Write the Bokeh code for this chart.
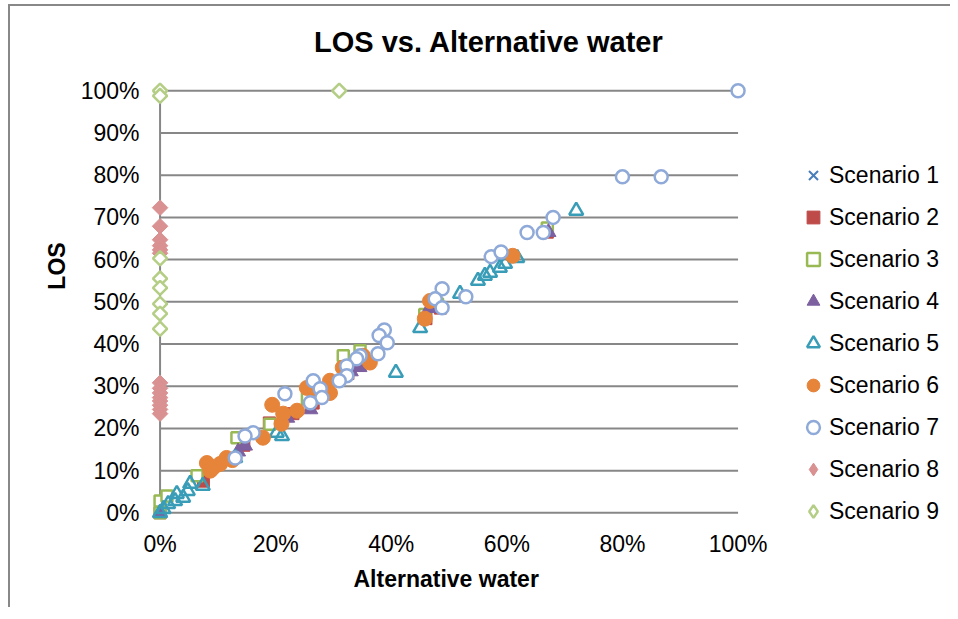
import math
from bokeh.plotting import figure
from bokeh.models import (FixedTicker, PrintfTickFormatter, Legend, LegendItem, Title, Label)
from bokeh.embed import file_html
from bokeh.resources import INLINE

# ---------------- data (percent) ----------------
s1_x = [0, 7.5, 14.5, 18.9, 23, 26.5, 32.5, 34.5, 46, 48.5, 67]
s1_y = [0, 7.5, 16, 21.3, 23.5, 26, 33, 35, 46, 48.5, 66.5]

s2_x = [0, 7.5, 14.5, 18.9, 23, 26.5, 32.5, 34.5, 46, 48.5, 67]
s2_y = [0, 7.5, 16, 21.3, 23.5, 26, 33, 35, 46, 48.5, 66.5]

s3_x = [0, 0, 1.2, 6.4, 13.3, 19, 25.5, 31.7, 34.6, 45.8, 48, 67]
s3_y = [0, 2.8, 4, 8.8, 17.8, 21, 27, 37.2, 38.4, 47, 49.5, 67.5]

s4_x = [0, 13.5, 14.7, 22, 26, 33, 34.5, 46.6, 67.2]
s4_y = [0, 14.5, 15.9, 22.5, 24.5, 33.5, 34.5, 48.5, 66.5]

s5_x = [0, 0.6, 1.4, 2.6, 2.9, 4, 4.8, 5.2, 7.4, 13, 20.2, 21.1, 27, 40.8, 45,
        51.9, 55, 56.2, 57.1, 58.8, 59.7, 61.8, 72]
s5_y = [0, 0.9, 2.1, 2.8, 4.5, 3.6, 5.2, 6.9, 6.4, 13, 19, 18.2, 28, 33.2, 43.8,
        51.9, 55, 56.2, 56.9, 58.1, 59, 60.4, 71.6]

s6_x = [8.1, 8.7, 9.2, 10.4, 11.5, 12.5, 17.8, 19.4, 21, 21.3, 23.7, 25.4, 26.8,
        29.4, 29.4, 31.6, 35.1, 36.3, 45.8, 46.7, 61]
s6_y = [11.8, 10, 10.7, 11.6, 13, 12.5, 17.8, 25.6, 21.1, 23.5, 24.2, 29.6, 27.3,
        28.4, 31.3, 34.4, 37.2, 35.6, 46, 50.2, 60.9]

s7_x = [100, 80, 86.7, 68, 63.5, 66.3, 57.3, 59, 48.8, 47.6, 48.8, 52.9, 38.8, 37.9,
        39.3, 37.7, 34.6, 34, 32.3, 32.3, 31, 26.5, 27.7, 28, 26, 21.6, 16.1, 14.7, 13]
s7_y = [100, 79.6, 79.6, 70, 66.4, 66.4, 60.7, 61.8, 53.1, 50.7, 48.6, 51.2, 43.3, 42,
        40.3, 37.7, 37.2, 36.5, 34.8, 32.5, 31.3, 31.3, 29.4, 27.3, 26.1, 28.2, 19, 18.2, 13]

s8_x = [0, 0, 0, 0, 0, 0, 0, 0, 0, 0, 0, 0, 0, 0]
s8_y = [72.3, 67.9, 64.7, 63.3, 62.3, 61.5, 30.8, 29.5, 28.4, 27.3, 26.5, 25.5, 24.5, 23.5]

s9_x = [0, 0, 0, 0, 0, 0, 0, 0, 31]
s9_y = [100, 98.8, 60.3, 55.5, 53.3, 49.5, 47.2, 43.6, 100]

x_ticks = [0, 20, 40, 60, 80, 100]
y_ticks = [0, 10, 20, 30, 40, 50, 60, 70, 80, 90, 100]

names = ["Scenario 1", "Scenario 2", "Scenario 3", "Scenario 4", "Scenario 5",
         "Scenario 6", "Scenario 7", "Scenario 8", "Scenario 9"]
chart_title = "LOS vs. Alternative water"

FONT = "Liberation Sans"
GRID = "#878787"

p = figure(width=942, height=603, x_range=(-2, 137.1), y_range=(-3, 119.96),
           min_border_left=138, min_border_right=0, min_border_top=0,
           min_border_bottom=84, output_backend="svg", toolbar_location=None)
p.styles = {"margin-left": "8px", "margin-top": "4px",
            "border-left": "2px solid #888888", "border-top": "2px solid #888888"}
p.outline_line_color = None
p.xgrid.visible = False
p.ygrid.visible = False

# chart title (inside the frame area, above the plot)
p.add_layout(Label(x=56.9, y=111.6, text=chart_title, text_align="center",
                   text_baseline="middle", text_font=FONT, text_font_size="29px",
                   text_font_style="bold", text_color="black"))

# gridlines & y axis line
p.segment(x0=0, y0=y_ticks, x1=100, y1=y_ticks, line_color=GRID, line_width=2)
p.segment(x0=0, y0=0, x1=0, y1=100, line_color=GRID, line_width=2)

for ax, ticks in ((p.xaxis[0], x_ticks), (p.yaxis[0], y_ticks)):
    ax.ticker = FixedTicker(ticks=ticks)
    ax.formatter = PrintfTickFormatter(format="%d%%")
    ax.axis_line_color = None
    ax.major_tick_line_color = None
    ax.minor_tick_line_color = None
    ax.major_tick_out = 0
    ax.major_tick_in = 0
    ax.minor_tick_out = 0
    ax.minor_tick_in = 0
    ax.major_label_text_font = FONT
    ax.major_label_text_font_size = "23px"
    ax.major_label_text_color = "black"
    ax.axis_label_text_font = FONT
    ax.axis_label_text_font_size = "23px"
    ax.axis_label_text_font_style = "bold"
    ax.axis_label_text_color = "black"
p.yaxis.axis_label = "LOS"
p.xaxis.major_label_standoff = 5
p.yaxis.major_label_standoff = 9
p.yaxis.axis_label_standoff = 8

p.add_layout(Title(text="Alternative water", align="left", offset=205,
                   text_font=FONT, text_font_size="23px", text_font_style="bold",
                   text_color="black", standoff=8), "below")

S = 13
D = math.pi / 4
rs = []
rs.append(p.scatter(s1_x, s1_y, marker="x", size=10, line_color="#4A7EBB", line_width=2))
rs.append(p.scatter(s2_x, s2_y, marker="square", size=S - 1, fill_color="#BE4B48", line_color="#BE4B48"))
rs.append(p.scatter(s3_x, s3_y, marker="square", size=S - 2, fill_color="white", line_color="#98B954", line_width=2.5))
rs.append(p.scatter(s4_x, s4_y, marker="triangle", size=S + 2, fill_color="#7D60A0", line_color="#7D60A0"))
rs.append(p.scatter(s5_x, s5_y, marker="triangle", size=S + 1, fill_color="white", fill_alpha=0, line_color="#3A9DB8", line_width=2.5))
rs.append(p.scatter(s6_x, s6_y, marker="circle", size=S + 2, fill_color="#E6843A", line_color="#E6843A"))
rs.append(p.scatter(s7_x, s7_y, marker="circle", size=S, fill_color="white", line_color="#8FAAD8", line_width=2.5))
# diamonds: a plain diamond (used for the legend key) under a rotated square
rs.append(p.scatter(s8_x, s8_y, marker="diamond", size=12, fill_color="#D99191", line_color="#D99191"))
p.scatter(s8_x, s8_y, marker="square", angle=D, size=11, fill_color="#D99191", line_color="#D99191")
rs.append(p.scatter(s9_x, s9_y, marker="diamond", size=12, fill_color="white", line_color="#B5CE86", line_width=2.5))
p.scatter(s9_x, s9_y, marker="square", angle=D, size=10, fill_color="white", line_color="#B5CE86", line_width=2.5)

legend = Legend(items=[LegendItem(label=n, renderers=[r]) for n, r in zip(names, rs)],
                location=(649, -2), glyph_width=32, glyph_height=32, label_height=30,
                spacing=10, padding=0, margin=0, label_standoff=0,
                label_text_font=FONT, label_text_font_size="23px",
                label_text_color="black", border_line_color=None,
                background_fill_alpha=0)
p.add_layout(legend, "center")

open("out.html", "w").write(file_html(p, INLINE))
